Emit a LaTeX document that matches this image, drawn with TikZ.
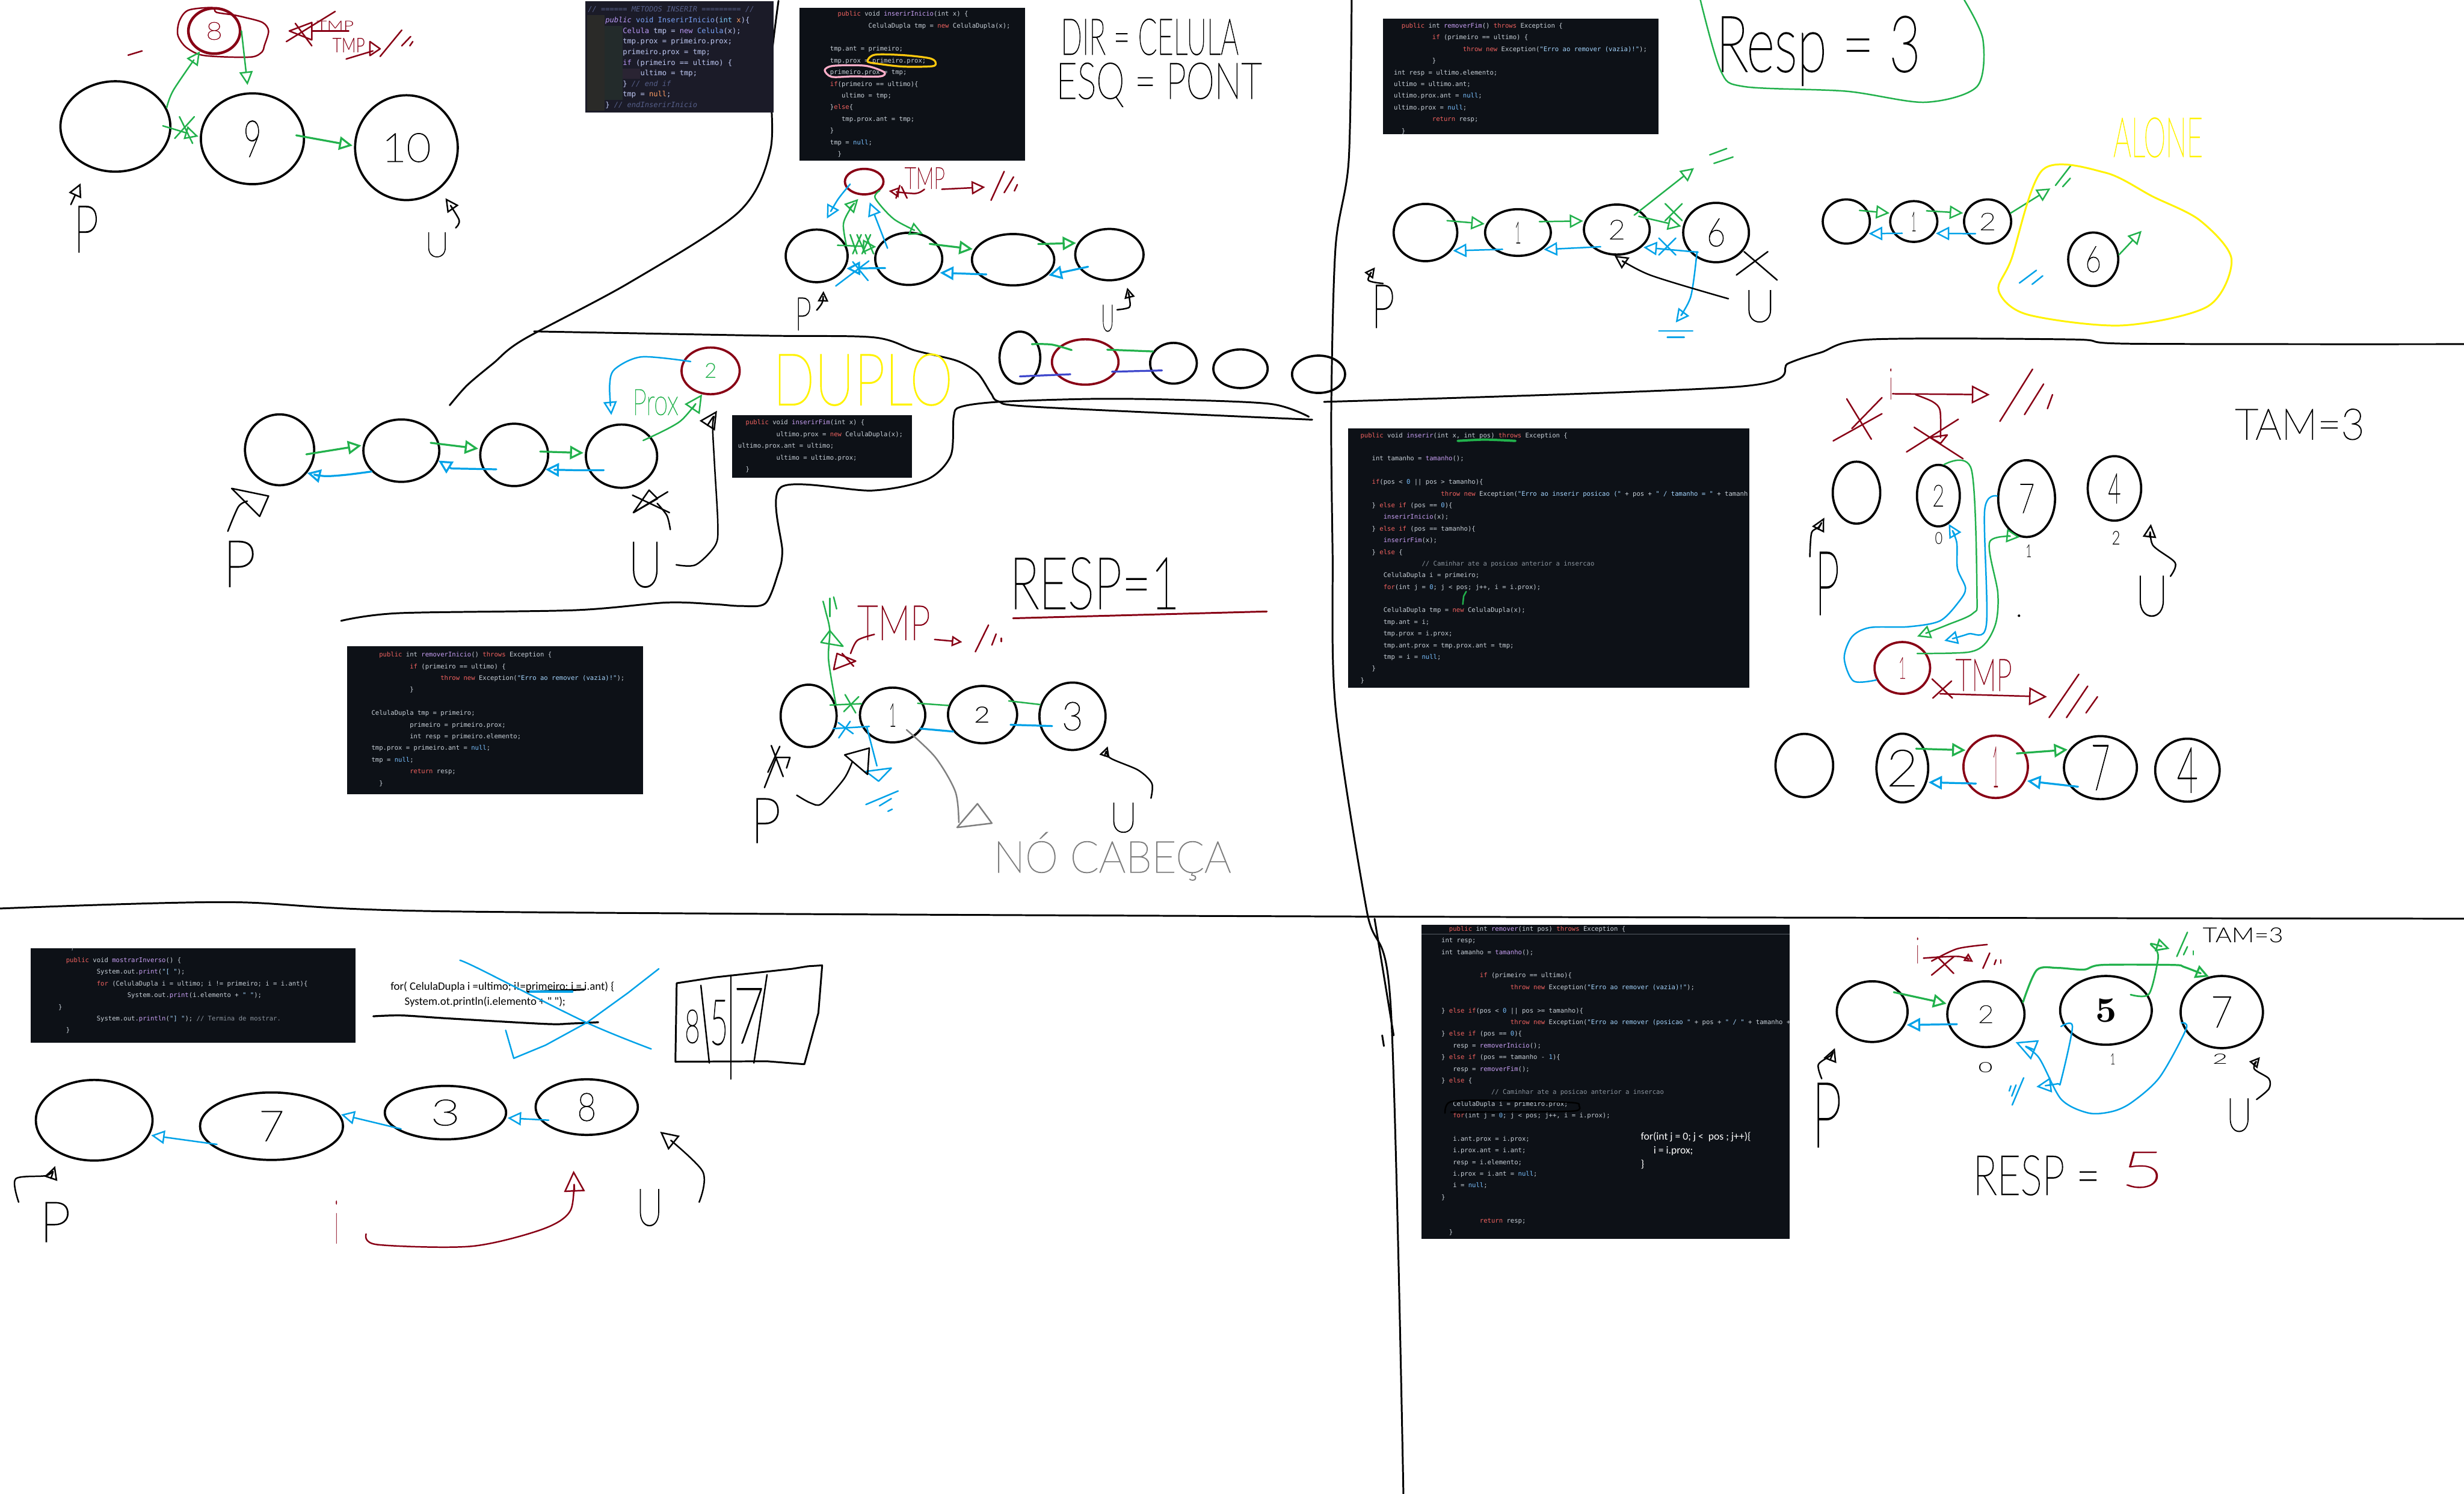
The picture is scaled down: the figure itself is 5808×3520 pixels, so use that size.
\documentclass[tikz,border=0pt]{standalone}
\usepackage{graphicx}
\usepackage{fontspec}
\setmonofont{DejaVu Sans Mono}
\newfontfamily\hwthin[UprightFont=* Hairline,FakeBold=1.6]{Lato}
\newfontfamily\hwlight[UprightFont=* Light]{Lato}
\newfontfamily\notefont{Carlito}
\usetikzlibrary{arrows.meta,shapes.geometric}

\definecolor{penred}{HTML}{880015}
\definecolor{pengreen}{HTML}{22B14C}
\definecolor{penblue}{HTML}{00A2E8}
\definecolor{penyellow}{HTML}{FFF200}
\definecolor{pengray}{HTML}{7F7F7F}
\definecolor{penindigo}{HTML}{3F48CC}
\definecolor{penpink}{HTML}{FFAEC9}
\definecolor{penorange}{HTML}{FFC90E}
\definecolor{codebg}{HTML}{0D1117}
\definecolor{codefg}{HTML}{C9D1D9}
\definecolor{codekw}{HTML}{F0625F}
\definecolor{codefn}{HTML}{C9A0F5}
\definecolor{codeval}{HTML}{79C0FF}
\definecolor{codestr}{HTML}{A5D6FF}
\definecolor{codecm}{HTML}{8B949E}
\definecolor{tnbg}{HTML}{1B1B28}
\definecolor{tnfg}{HTML}{C0CAF5}
\definecolor{tncm}{HTML}{565F89}
\definecolor{tnkw}{HTML}{BB9AF7}
\definecolor{tnfn}{HTML}{7AA2F7}
\definecolor{tnor}{HTML}{FF9E64}
\definecolor{tncy}{HTML}{7DCFFF}
\definecolor{tnshadea}{HTML}{2A2A28}
\definecolor{tnshadeb}{HTML}{232B2B}
\definecolor{tnshadec}{HTML}{2A2433}

\newlength{\pxu}
\setlength{\pxu}{0.01cm}
\newcommand{\hand}[3]{\resizebox{#1\pxu}{#2\pxu}{\ifnum#2<40 \hwlight\else\hwthin\fi #3}}
\newcommand{\ind}[1]{\hspace*{#1\dimexpr0.602em\relax}}
\newcommand{\kw}[1]{\textcolor{codekw}{#1}}
\newcommand{\fn}[1]{\textcolor{codefn}{#1}}
\newcommand{\val}[1]{\textcolor{codeval}{#1}}
\newcommand{\str}[1]{\textcolor{codestr}{#1}}
\newcommand{\cmt}[1]{\textcolor{codecm}{#1}}

\tikzset{
    pen/.style={line width=1pt,line cap=round,line join=round},
    kline/.style={pen,black},
    rline/.style={pen,penred},
    gline/.style={pen,pengreen},
    bline/.style={pen,penblue},
    yline/.style={pen,penyellow},
    wall/.style={line width=1.2pt,line cap=round,line join=round,black},
    hd/.style={-{Triangle[open,length=#1pt,width=#1pt]}},
    hd/.default=9,
    link/.style={hd,shorten <=-6pt,shorten >=1pt},
    cel/.style 2 args={ellipse,draw,line width=1.5pt,inner sep=0pt,minimum width=#1*0.01cm,minimum height=#2*0.01cm},
    redcel/.style 2 args={cel={#1}{#2},draw=penred,text=penred},
    hw/.style={inner sep=0pt},
    codetext/.style={anchor=north west,inner sep=0pt,text=codefg,font=\fontsize{4.27}{7.82}\selectfont\ttfamily},
}

\begin{document}
\begin{tikzpicture}[x=0.01cm,y=-0.01cm]
    \useasboundingbox (0,0) rectangle (5808,3520);

    % Dividing lines
    \draw[wall] plot[smooth] coordinates {(1835,2) (1816,167) (1816,353) (1741,500) (1482,667) (1234,800) (1163,856) (1101,908) (1060,955)};
    \draw[wall] plot[smooth] coordinates {(1259,781) (1800,791) (2059,795) (2157,826) (2255,850) (2304,879) (2336,927) (2354,946) (2443,959) (3093,989)};
    \draw[wall] plot[smooth] coordinates {(804,1463) (939,1445) (1354,1438) (1570,1420) (1686,1424) (1744,1428) (1804,1422) (1834,1351) (1844,1300) (1841,1148) (2056,1156) (2185,1130) (2241,1074) (2248,982) (2264,959) (2354,947) (2577,940) (2773,942) (2996,952) (3085,982)};
    \draw[wall] plot[smooth] coordinates {(3186,0) (3179,380) (3148,583) (3138,960) (3141,1296) (3148,1667) (3222,2148) (3278,2370) (3308,3520)};
    \draw[wall] plot[smooth] coordinates {(3121,947) (4100,911) (4216,856) (4291,831) (4407,800) (4888,800) (5020,810) (5808,811)};
    \draw[wall] plot[smooth] coordinates {(0,2141) (537,2126) (1074,2148) (3222,2160) (5808,2165)};
    \draw[wall] (3240,2165) -- (3285,2440);
    \draw[wall] (3258,2440) -- (3262,2465);

    % METODOS INSERIR panel
    \fill[tnbg] (1379,3) rectangle (1824,265);
    \fill[tnshadea] (1384,36) rectangle (1425,261);
    \fill[tnshadeb] (1425,61) rectangle (1467,236);
    \fill[tnshadec] (1467,161) rectangle (1508,186);
    \node[codetext,text=tnfg,font=\fontsize{4.87}{7.11}\selectfont\ttfamily] (insertpanel) at (1385,10) {\begin{tabular}{@{}l@{}}
        \textcolor{tncm}{\itshape // ====== METODOS INSERIR ========= //}\\
        \ind{4}\textcolor{tnkw}{\itshape public} \textcolor{tnfn}{void InserirInicio}(\textcolor{tncy}{int} \textcolor{tnor}{x})\{\\
        \ind{8}\textcolor{tnkw}{Celula} tmp = \textcolor{tnkw}{new} \textcolor{tnfn}{Celula}(x);\\
        \ind{8}tmp.prox = primeiro.prox;\\
        \ind{8}primeiro.prox = tmp;\\
        \ind{8}\textcolor{tnkw}{if} (primeiro == ultimo) \{\\
        \ind{12}ultimo = tmp;\\
        \ind{8}\} \textcolor{tncm}{\itshape // end if}\\
        \ind{8}tmp = \textcolor{tnor}{null};\\
        \ind{4}\} \textcolor{tncm}{\itshape // endInserirInicio}
    \end{tabular}};

    % inserirInicio panel
    \fill[codebg] (1884,18) rectangle (2416,379);
    \node[codetext] (inicio) at (1956,18) {\begin{tabular}{@{}l@{}}
        \ind{2}\kw{public} void \fn{inserirInicio}(int x) \{\\
        \ind{10}CelulaDupla tmp = \kw{new} CelulaDupla(x);\\
        \\
        tmp.ant = primeiro;\\
        tmp.prox = primeiro.prox;\\
        primeiro.prox = tmp;\\
        \kw{if}(primeiro == ultimo)\{\\
        \ind{3}ultimo = tmp;\\
        \}\kw{else}\{\\
        \ind{3}tmp.prox.ant = tmp;\\
        \}\\
        tmp = \val{null};\\
        \ind{2}\}
    \end{tabular}};
    \draw[pen,penorange,line width=1.3pt] plot[smooth cycle] coordinates {(2045,145) (2062,129) (2130,130) (2190,137) (2205,146) (2198,156) (2130,157) (2075,151)};
    \draw[pen,penpink,line width=1.3pt] plot[smooth cycle] coordinates {(1944,165) (1965,155) (2040,155) (2084,170) (2075,180) (2010,180) (1960,181)};

    % removerFim panel
    \fill[codebg] (3260,44) rectangle (3910,316);
    \node[codetext] (fim) at (3285,46) {\begin{tabular}{@{}l@{}}
        \ind{2}\kw{public} int \fn{removerFim}() \kw{throws} Exception \{\\
        \ind{10}\kw{if} (primeiro == ultimo) \{\\
        \ind{18}\kw{throw} \kw{new} Exception(\str{"Erro ao remover (vazia)!"});\\
        \ind{10}\}\\
        int resp = ultimo.elemento;\\
        ultimo = ultimo.ant;\\
        ultimo.prox.ant = \val{null};\\
        ultimo.prox = \val{null};\\
        \ind{10}\kw{return} resp;\\
        \ind{2}\}
    \end{tabular}};

    % inserir panel
    \fill[codebg] (3178,1009) rectangle (4124,1621);
    \node[codetext] (inserir) at (3206,1011) {\begin{tabular}{@{}l@{}}
        \kw{public} void \fn{inserir}(int x, int pos) \kw{throws} Exception \{\\
        \\
        \ind{3}int tamanho = \fn{tamanho}();\\
        \\
        \ind{3}\kw{if}(pos < \val{0} || pos > tamanho)\{\\
        \ind{21}\kw{throw} \kw{new} Exception(\str{"Erro ao inserir posicao ("} + pos + \str{" / tamanho = "} + tamanh\\
        \ind{3}\} \kw{else if} (pos == \val{0})\{\\
        \ind{6}\fn{inserirInicio}(x);\\
        \ind{3}\} \kw{else if} (pos == tamanho)\{\\
        \ind{6}\fn{inserirFim}(x);\\
        \ind{3}\} \kw{else} \{\\
        \ind{16}\cmt{// Caminhar ate a posicao anterior a insercao}\\
        \ind{6}CelulaDupla i = primeiro;\\
        \ind{6}\kw{for}(int j = \val{0}; j < pos; j++, i = i.prox);\\
        \\
        \ind{6}CelulaDupla tmp = \kw{new} CelulaDupla(x);\\
        \ind{6}tmp.ant = i;\\
        \ind{6}tmp.prox = i.prox;\\
        \ind{6}tmp.ant.prox = tmp.prox.ant = tmp;\\
        \ind{6}tmp = i = \val{null};\\
        \ind{3}\}\\
        \}
    \end{tabular}};
    \draw[gline,line width=1.6pt] plot[smooth] coordinates {(3436,1039) (3500,1036) (3572,1039)};
    \draw[gline] (3448,1424) -- (3450,1405) -- (3456,1394);

    % remover panel
    \fill[codebg] (3351,2180) rectangle (4218,2919);
    \draw[line width=.4pt,codefg!40!codebg] (3351,2202) -- (4218,2202);
    \node[codetext] (remover) at (3397,2174) {\begin{tabular}{@{}l@{}}
        \ind{2}\kw{public} int \fn{remover}(int pos) \kw{throws} Exception \{\\
        int resp;\\
        int tamanho = \fn{tamanho}();\\
        \\
        \ind{10}\kw{if} (primeiro == ultimo)\{\\
        \ind{18}\kw{throw} \kw{new} Exception(\str{"Erro ao remover (vazia)!"});\\
        \\
        \} \kw{else if}(pos < \val{0} || pos >= tamanho)\{\\
        \ind{18}\kw{throw} \kw{new} Exception(\str{"Erro ao remover (posicao "} + pos + \str{" / "} + tamanho +\\
        \} \kw{else if} (pos == \val{0})\{\\
        \ind{3}resp = \fn{removerInicio}();\\
        \} \kw{else if} (pos == tamanho - \val{1})\{\\
        \ind{3}resp = \fn{removerFim}();\\
        \} \kw{else} \{\\
        \ind{13}\cmt{// Caminhar ate a posicao anterior a insercao}\\
        \ind{3}CelulaDupla i = primeiro.prox;\\
        \ind{3}\kw{for}(int j = \val{0}; j < pos; j++, i = i.prox);\\
        \\
        \ind{3}i.ant.prox = i.prox;\\
        \ind{3}i.prox.ant = i.ant;\\
        \ind{3}resp = i.elemento;\\
        \ind{3}i.prox = i.ant = \val{null};\\
        \ind{3}i = \val{null};\\
        \}\\
        \\
        \ind{10}\kw{return} resp;\\
        \ind{2}\}
    \end{tabular}};
    \draw[kline] plot[smooth] coordinates {(3406,2623) (3418,2597) (3500,2593) (3700,2598) (3722,2606) (3712,2618) (3600,2620) (3420,2621)};
    \node[anchor=north west,inner sep=0pt,text=white,align=left,font=\fontsize{7.1}{9.2}\selectfont\notefont] (fornote) at (3867,2668) {for(int j = 0; j <\ \ pos ; j++)\{\\\hspace*{30\pxu}i = i.prox;\\\}};

    % removerInicio panel
    \fill[codebg] (818,1523) rectangle (1516,1872);
    \node[codetext] (rinicio) at (875,1528) {\begin{tabular}{@{}l@{}}
        \ind{2}\kw{public} int \fn{removerInicio}() \kw{throws} Exception \{\\
        \ind{10}\kw{if} (primeiro == ultimo) \{\\
        \ind{18}\kw{throw} \kw{new} Exception(\str{"Erro ao remover (vazia)!"});\\
        \ind{10}\}\\
        \\
        CelulaDupla tmp = primeiro;\\
        \ind{10}primeiro = primeiro.prox;\\
        \ind{10}int resp = primeiro.elemento;\\
        tmp.prox = primeiro.ant = \val{null};\\
        tmp = \val{null};\\
        \ind{10}\kw{return} resp;\\
        \ind{2}\}
    \end{tabular}};

    % mostrarInverso panel
    \fill[codebg] (72,2234) rectangle (838,2458);
    \draw[line width=.4pt,codecm] (171,2234) -- (170,2240);
    \node[codetext] (inverso) at (137,2248) {\begin{tabular}{@{}l@{}}
        \ind{2}\kw{public} void \fn{mostrarInverso}() \{\\
        \ind{10}System.out.\fn{print}(\str{"[ "});\\
        \ind{10}\kw{for} (CelulaDupla i = ultimo; i != primeiro; i = i.ant)\{\\
        \ind{18}System.out.\fn{print}(i.elemento + \str{" "});\\
        \}\\
        \ind{10}System.out.\fn{println}(\str{"] "}); \cmt{// Termina de mostrar.}\\
        \ind{2}\}
    \end{tabular}};

    % inserirFim panel
    \fill[codebg] (1726,979) rectangle (2149,1126);
    \node[codetext] (ifim) at (1739,981) {\begin{tabular}{@{}l@{}}
        \ind{2}\kw{public} void \fn{inserirFim}(int x) \{\\
        \ind{10}ultimo.prox = \kw{new} CelulaDupla(x);\\
        ultimo.prox.ant = ultimo;\\
        \ind{10}ultimo = ultimo.prox;\\
        \ind{2}\}
    \end{tabular}};

    % Inserir inicio simples
    \node[cel={259}{213}] (a0) at (272,298) {};
    \node[cel={243}{214}] (a9) at (595,327) {\hand{43}{85}{9}};
    \node[cel={242}{247}] (a10) at (958,348) {\hand{116}{67}{10}};
    \node[redcel={122}{107},line width=1.8pt] (a8) at (505,73) {\hand{39}{41}{8}};
    \draw[rline] plot[smooth cycle] coordinates {(500,18) (444,24) (423,49) (419,82) (437,110) (472,129) (528,134) (595,134) (618,122) (623,108) (633,73) (619,53) (577,41) (549,35) (510,29)};
    \draw[gline,hd] plot[smooth] coordinates {(a0.20) (409,212) (a8.-125)};
    \draw[gline,hd,shorten >=5pt] (a8.east) -- (a9.95);
    \draw[gline,link] (a0.-2) -- (a9.178);
    \draw[gline,link,line width=1.3pt] (a9.2) -- (a10.178);
    \draw[gline] (423,275) -- (454,338);
    \draw[gline] (458,275) -- (412,326);
    \node[hw,text=penred] (atmp) at (790,60) {\hand{88}{22}{TMP}};
    \draw[rline] (675,98) -- (790,27);
    \draw[rline] (696,55) -- (735,108);
    \draw[rline] (682,73) -- (735,53) -- (735,94) -- cycle;
    \draw[rline] (735,73) -- (822,73);
    \node[hw,text=penred] (atmpb) at (822,107) {\hand{77}{34}{TMP}};
    \draw[rline] (816,139) -- (879,120);
    \draw[rline] (872,98) -- (896,115) -- (872,131) -- cycle;
    \draw[rline] (896,133) -- (947,71);
    \draw[rline] (947,108) -- (968,86);
    \draw[rline] (966,108) -- (973,98);
    \draw[rline] (302,130) -- (335,120);
    \node[hw] (ap) at (203,540) {\hand{59}{108}{P}};
    \draw[kline,hd] (167,482) -- (190,432);
    \node[hw] (au) at (1030,577) {\hand{57}{57}{U}};
    \draw[kline,hd] plot[smooth] coordinates {(1074,537) (1082,518) (1050,467)};

    % Dupla inserir inicio
    \node[redcel={91}{60}] (bt) at (2037,428) {};
    \node[cel={146}{124}] (b0) at (1925,603) {};
    \node[cel={158}{123}] (b1) at (2142,610) {};
    \node[cel={194}{121}] (b2) at (2388,612) {};
    \node[cel={161}{121}] (b3) at (2615,600) {};
    \draw[gline,link] (b0.19) -- (b1.159);
    \draw[gline,hd] plot[smooth] coordinates {(b0.19) (1988,528) (2005,491) (2023,469)};
    \draw[gline,hd] plot[smooth] coordinates {(bt.-30) (2063,467) (2108,517) (b1.60)};
    \draw[bline,hd] plot[smooth] coordinates {(2004,434) (1975,470) (1949,515)};
    \draw[bline,hd] (2092,585) -- (2050,477);
    \draw[gline,link,line width=1.3pt] (b1.25) -- (b2.165);
    \draw[gline,link,line width=1.3pt] (b2.25) -- (b3.160);
    \draw[bline,link,line width=1.3pt] (b1.196) -- (b0.-24);
    \draw[bline,link,line width=1.3pt] (b2.-158) -- (b1.-25);
    \draw[bline,link,line width=1.3pt] (b3.-155) -- (b2.-25);
    \draw[gline] (2004,553) -- (2020,598);
    \draw[gline] (2020,553) -- (2040,598);
    \draw[gline] (2040,553) -- (2059,598);
    \draw[gline] (2010,598) -- (2030,553);
    \draw[gline] (2032,598) -- (2052,553);
    \draw[bline] (2010,617) -- (2046,661);
    \draw[bline] (2048,615) -- (1970,674);
    \node[hw,text=penred] (btmp) at (2180,420) {\hand{95}{50}{TMP}};
    \draw[rline,hd] (2220,446) -- (2322,441);
    \draw[rline,hd=7] plot[smooth] coordinates {(2179,446) (2157,456) (2095,450)};
    \draw[rline] (2121,437) -- (2112,467);
    \draw[rline] (2125,440) -- (2138,467);
    \draw[rline] (2336,472) -- (2367,404);
    \draw[rline] (2389,417) -- (2367,454);
    \draw[rline] (2398,435) -- (2391,450);
    \node[hw] (bp) at (1893,740) {\hand{39}{76}{P}};
    \draw[kline,hd=7] plot[smooth] coordinates {(1925,731) (1938,713) (1941,686)};
    \node[hw] (bu) at (2611,750) {\hand{31}{62}{U}};
    \draw[kline,hd=7] plot[smooth] coordinates {(2633,730) (2662,724) (2662,702) (2657,678)};

    % Lista depois de inserir
    \node[cel={96}{123}] (d0) at (2404,843) {};
    \node[redcel={157}{107}] (d1) at (2558,853) {};
    \node[cel={110}{96}] (d2) at (2766,856) {};
    \node[cel={128}{91}] (d3) at (2924,869) {};
    \node[cel={125}{88}] (d4) at (3108,882) {};
    \draw[gline,line width=1.3pt] plot[smooth] coordinates {(2432,811) (2479,812) (2526,825)};
    \draw[gline,line width=1.3pt] (2610,824) -- (d2.150);
    \draw[pen,penindigo,line width=1.3pt] (2404,887) -- (2523,882);
    \draw[pen,penindigo,line width=1.3pt] (2621,876) -- (2739,873);

    % Textos de cima
    \node[hw] (dirtxt) at (2710,87) {\hand{419}{84}{DIR = CELULA}};
    \node[hw] (esqtxt) at (2732,200) {\hand{485}{84}{ESQ = PONT}};
    \node[hw,text=penyellow] (duplotxt) at (2034,895) {\hand{424}{120}{DUPLO}};

    % Inserir fim
    \node[cel={163}{167}] (c0) at (659,1060) {};
    \node[cel={179}{147}] (c1) at (946,1062) {};
    \node[cel={160}{147}] (c2) at (1212,1072) {};
    \node[cel={168}{149}] (c3) at (1465,1075) {};
    \node[redcel={137}{110},text=pengreen] (ct) at (1675,874) {\hand{29}{35}{2}};
    \draw[gline,link,line width=1.3pt] (c0.-5) -- (c1.172);
    \draw[gline,link,line width=1.3pt] (c1.10) -- (c2.170);
    \draw[gline,link,line width=1.3pt] (c2.5) -- (c3.175);
    \draw[bline,hd,line width=1.3pt] plot[smooth] coordinates {(c1.-145) (815,1119) (765,1122) (c0.-40)};
    \draw[bline,hd,line width=1.3pt] plot coordinates {(1170,1106) (1064,1104) (c1.-15)};
    \draw[bline,hd,line width=1.3pt] plot[smooth] coordinates {(1423,1108) (1354,1108) (c2.-25)};
    \draw[gline,hd=12] plot[smooth] coordinates {(1516,1038) (1603,993) (ct.-110)};
    \draw[bline,hd] plot[smooth] coordinates {(1628,852) (1512,841) (1449,870) (1437,908) (1441,978)};
    \node[hw,text=pengreen] (proxtxt) at (1545,948) {\hand{108}{60}{Prox}};
    \draw[kline] (1491,1167) -- (1578,1208);
    \draw[kline] (1574,1159) -- (1493,1208);
    \draw[kline] (1530,1155) -- (1493,1208) -- (1550,1175) -- cycle;
    \draw[kline] plot[smooth] coordinates {(1549,1186) (1572,1215) (1580,1248)};
    \node[hw] (cp) at (564,1329) {\hand{79}{107}{P}};
    \draw[kline] plot[smooth] coordinates {(537,1252) (562,1194) (583,1181)};
    \draw[kline] (546,1151) -- (633,1169) -- (612,1217) -- cycle;
    \node[hw] (cu) at (1521,1331) {\hand{80}{105}{U}};
    \draw[kline,hd=12] plot[smooth] coordinates {(1594,1331) (1640,1331) (1686,1285) (1692,1235) (1684,1090) (1680,999) (1690,968)};

    % Remover inicio
    \node[cel={132}{147}] (r0) at (1906,1687) {};
    \node[cel={154}{129}] (r1) at (2104,1685) {\hand{17}{54}{1}};
    \node[cel={163}{135}] (r2) at (2316,1684) {\hand{38}{38}{2}};
    \node[cel={156}{159}] (r3) at (2528,1688) {\hand{50}{66}{3}};
    \draw[gline,shorten <=-4pt] (r0.22) -- (r1.160);
    \draw[gline,shorten <=-4pt] (r1.20) -- (r2.165);
    \draw[gline,shorten <=-4pt] (r2.22) -- (r3.160);
    \draw[gline] (1992,1637) -- (2017,1680);
    \draw[gline] (2024,1642) -- (1989,1677);
    \draw[gline] plot[smooth] coordinates {(r0.22) (1953,1555) (1956,1486) (1946,1440) (1940,1417)};
    \draw[gline] (1956,1486) -- (1935,1514) -- (1987,1523) -- cycle;
    \draw[gline] (1956,1410) -- (1956,1453);
    \draw[gline] (1965,1407) -- (1972,1435);
    \draw[bline] (1964,1717) -- (2049,1712);
    \draw[bline] (1976,1703) -- (2011,1729);
    \draw[bline] (2004,1700) -- (1977,1739);
    \draw[bline] (2043,1713) -- (2067,1805);
    \draw[bline] (2041,1818) -- (2101,1810) -- (2071,1841) -- cycle;
    \draw[bline,line width=1.3pt] (2169,1717) -- (r2.-150);
    \draw[bline,line width=1.3pt] (2382,1708) -- (2480,1711);
    \draw[bline] (2041,1896) -- (2117,1864);
    \draw[bline] (2073,1899) -- (2101,1882);
    \draw[bline] (2093,1912) -- (2103,1907);
    \draw[kline] plot[smooth] coordinates {(1878,1874) (1910,1892) (1937,1894) (1989,1836) (2009,1795)};
    \draw[kline] (1991,1779) -- (2049,1763) -- (2045,1825) -- cycle;
    \draw[kline] (1802,1856) -- (1830,1785);
    \draw[kline] (1818,1757) -- (1846,1830);
    \draw[kline] (1838,1759) -- (1810,1820);
    \draw[kline] (1830,1785) -- (1862,1785) -- (1854,1810);
    \node[hw] (rp) at (1805,1934) {\hand{72}{104}{P}};
    \node[hw] (ru) at (2648,1927) {\hand{66}{69}{U}};
    \draw[kline,hd=7] plot[smooth] coordinates {(2713,1881) (2715,1846) (2683,1815) (2615,1785) (2611,1759)};
    \draw[pen,pengray] plot[smooth] coordinates {(2137,1720) (2205,1785) (2252,1866) (2260,1938)};
    \draw[pen,pengray] (2256,1950) -- (2304,1894) -- (2338,1940) -- cycle;
    \node[hw,text=pengray] (notxt) at (2622,2018) {\hand{560}{95}{NÓ CABEÇA}};
    \node[hw] (resptxt) at (2580,1375) {\hand{400}{120}{RESP=1}};
    \draw[rline,line width=1.2pt] (2388,1457) -- (2986,1441);
    \node[hw,text=penred] (rtmp) at (2107,1468) {\hand{172}{80}{TMP}};
    \draw[rline] plot[smooth] coordinates {(2061,1495) (2021,1509) (2005,1540)};
    \draw[rline] (1965,1578) -- (1973,1540) -- (2017,1558) -- cycle;
    \draw[rline] (1985,1540) -- (2012,1570);
    \draw[rline,hd=7] (2203,1507) -- (2268,1513);
    \draw[rline] (2299,1536) -- (2330,1473);
    \draw[rline] (2338,1520) -- (2348,1494);
    \draw[rline] (2360,1512) -- (2360,1504);

    % Remover fim
    \node[cel={150}{135}] (e0) at (3360,548) {};
    \node[cel={155}{110}] (e1) at (3578,548) {\hand{15}{50}{1}};
    \node[cel={155}{118}] (e2) at (3811,541) {\hand{40}{45}{2}};
    \node[cel={155}{140}] (e3) at (4045,548) {\hand{45}{65}{6}};
    \draw[gline,link] (e0.20) -- (e1.165);
    \draw[gline,link] (e1.20) -- (e2.165);
    \draw[gline,link] (e2.20) -- (e3.170);
    \draw[bline,link] (e1.-145) -- (e0.-35);
    \draw[bline,link] (e2.-145) -- (e1.-35);
    \draw[bline,link] (e3.-145) -- (e2.-35);
    \draw[gline,hd] (3852,507) -- (3993,396);
    \draw[gline] (3925,480) -- (3965,520);
    \draw[gline] (3965,480) -- (3925,520);
    \draw[bline] (3910,561) -- (3950,601);
    \draw[bline] (3950,561) -- (3910,601);
    \draw[bline,hd] plot[smooth] coordinates {(4000,593) (3985,700) (3950,760)};
    \draw[bline] (3910,780) -- (3990,780);
    \draw[bline] (3930,795) -- (3970,795);
    \draw[gline] (4030,365) -- (4070,350);
    \draw[gline] (4040,385) -- (4085,370);
    \draw[kline] (4093,648) -- (4167,593);
    \draw[kline] (4111,593) -- (4189,660);
    \node[hw] (eu) at (4148,722) {\hand{74}{74}{U}};
    \draw[kline,hd] plot[smooth] coordinates {(4074,704) (3889,648) (e2.-95)};
    \node[hw] (ep) at (3260,722) {\hand{55}{100}{P}};
    \draw[kline,hd=7] plot[smooth] coordinates {(3260,668) (3225,660) (3241,630)};
    \node[hw] (resptres) at (4286,120) {\hand{482}{130}{Resp = 3}};
    \draw[gline] plot[smooth] coordinates {(4008,0) (4056,167) (4111,204) (4352,215) (4537,241) (4660,204) (4674,93) (4630,0)};

    % Celula sozinha
    \node[cel={111}{104}] (f0) at (4352,522) {};
    \node[cel={111}{96}] (f1) at (4511,522) {\hand{12}{45}{1}};
    \node[cel={111}{104}] (f2) at (4685,522) {\hand{40}{40}{2}};
    \node[cel={118}{126}] (f6) at (4934,611) {\hand{38}{60}{6}};
    \draw[gline,link] (f0.25) -- (f1.160);
    \draw[gline,link] (f1.25) -- (f2.160);
    \draw[gline,hd] (f2.20) -- (4833,444);
    \draw[gline,hd] (f6.10) -- (5048,544);
    \draw[bline,link] (f1.-150) -- (f0.-30);
    \draw[bline,link] (f2.-150) -- (f1.-30);
    \draw[gline] (4845,437) -- (4882,389);
    \draw[gline] (4862,440) -- (4880,420);
    \draw[bline] (4800,637) -- (4760,667);
    \draw[bline] (4815,650) -- (4790,670);
    \draw[yline,line width=1.2pt] plot[smooth cycle] coordinates {(4815,400) (4741,611) (4711,685) (4778,741) (5000,767) (5204,722) (5260,611) (5185,519) (5074,463) (4963,407)};
    \node[hw,text=penyellow] (alonetxt) at (5087,324) {\hand{211}{92}{ALONE}};

    % Inserir no meio
    \node[cel={112}{146}] (g0) at (4376,1161) {};
    \node[cel={101}{145}] (g2) at (4569,1168) {\hand{28}{50}{2}};
    \node[cel={134}{181}] (g7) at (4777,1175) {\hand{38}{68}{7}};
    \node[cel={126}{152}] (g4) at (4984,1151) {\hand{30}{70}{4}};
    \node[redcel={131}{122}] (gt) at (4484,1574) {\hand{18}{50}{1}};
    \draw[gline,hd] plot[smooth] coordinates {(g2.80) (4647,1107) (4660,1403) (4651,1445) (4589,1473) (4519,1500)};
    \draw[gline,hd] plot[smooth] coordinates {(4519,1540) (4639,1537) (4680,1516) (4705,1466) (4709,1396) (4690,1277) (g7.-100)};
    \draw[bline,hd] plot[smooth] coordinates {(g7.175) (4678,1203) (4682,1473) (4639,1494) (4583,1510)};
    \draw[bline,hd] plot[smooth] coordinates {(gt.-155) (4369,1605) (4347,1551) (4365,1501) (4407,1479) (4498,1477) (4573,1463) (4618,1417) (4633,1386) (4614,1340) (4612,1277) (g2.-70)};
    \draw[rline,hd=12] (4461,928) -- (4690,930);
    \node[hw,text=penred] (gi) at (4457,905) {\hand{8}{72}{i}};
    \draw[rline] plot[smooth] coordinates {(4515,930) (4556,947) (4573,968) (4574,1031)};
    \draw[rline] (4550,1031) -- (4590,1025) -- (4574,1045) -- cycle;
    \draw[rline] (4494,1065) -- (4616,988);
    \draw[rline] (4512,1007) -- (4627,1081);
    \draw[rline] (4353,940) -- (4411,1035);
    \draw[rline] (4436,937) -- (4365,1010);
    \draw[rline] (4321,1039) -- (4436,975);
    \draw[rline] (4714,993) -- (4791,870);
    \draw[rline] (4772,977) -- (4817,905);
    \draw[rline] (4826,963) -- (4838,930);
    \node[hw,text=penred] (gtmp) at (4676,1591) {\hand{133}{74}{TMP}};
    \draw[rline,hd=12] (4573,1635) -- (4825,1642);
    \draw[rline] (4554,1600) -- (4602,1645);
    \draw[rline] (4600,1605) -- (4556,1645);
    \draw[rline] (4830,1691) -- (4900,1589);
    \draw[rline] (4871,1691) -- (4921,1617);
    \draw[rline] (4917,1680) -- (4944,1642);
    \node[hw] (gtam) at (5421,1000) {\hand{305}{72}{TAM=3}};
    \node[hw] (gp) at (4307,1375) {\hand{58}{147}{P}};
    \draw[kline,hd] plot[smooth] coordinates {(4266,1312) (4270,1256) (4287,1242) (4300,1220)};
    \node[hw] (gu) at (5072,1405) {\hand{79}{94}{U}};
    \draw[kline,hd] plot[smooth] coordinates {(5116,1358) (5127,1326) (5074,1284) (5070,1235)};
    \node[hw] (gzero) at (4570,1268) {\hand{18}{28}{0}};
    \node[hw] (gone) at (4782,1299) {\hand{14}{30}{1}};
    \node[hw] (gtwo) at (4988,1268) {\hand{20}{32}{2}};
    \fill (4759,1451) circle (3);

    % Lista depois de inserir no meio
    \node[cel={136}{149}] (h0) at (4253,1804) {};
    \node[cel={122}{162}] (h2) at (4484,1810) {\hand{75}{85}{2}};
    \node[redcel={152}{147}] (h1) at (4704,1807) {\hand{15}{95}{1}};
    \node[cel={172}{118}] (h7) at (4951,1809) {\hand{45}{105}{7}};
    \node[cel={152}{137}] (h4) at (5156,1815) {\hand{50}{105}{4}};
    \draw[gline,link,line width=1.3pt] (h2.40) -- (h1.150);
    \draw[gline,link,line width=1.3pt] (h1.25) -- (h7.150);
    \draw[bline,link,line width=1.3pt] (h1.-150) -- (h2.-30);
    \draw[bline,link,line width=1.3pt] (h7.-150) -- (h1.-25);

    % Remover posicao
    \node[cel={167}{143}] (k0) at (4413,2384) {};
    \node[cel={182}{155}] (k2) at (4681,2390) {\hand{38}{41}{2}};
    \node[cel={216}{162},font=\bfseries] (k5) at (4964,2381) {\resizebox{50\pxu}{55\pxu}{\bfseries 5}};
    \node[cel={194}{170}] (k7) at (5237,2385) {\hand{52}{72}{7}};
    \draw[gline,link,line width=1.3pt] (k0.30) -- (k2.165);
    \draw[bline,link,line width=1.3pt] (k2.-165) -- (k0.-22);
    \draw[gline,hd,line width=1.3pt] plot[smooth] coordinates {(k2.18) (4801,2286) (4850,2281) (4912,2285) (4954,2274) (5122,2274) (5149,2279) (k7.110)};
    \draw[gline,hd,line width=1.1pt] plot[smooth] coordinates {(5022,2344) (5065,2343) (5086,2265) (5084,2241) (5070,2224) (5114,2236)};
    \draw[gline] (5131,2254) -- (5156,2197);
    \draw[gline] (5147,2250) -- (5156,2231);
    \draw[gline] (5170,2241) -- (5170,2250);
    \draw[bline,hd=14] plot[smooth] coordinates {(k7.-165) (5153,2425) (5091,2538) (5026,2597) (4980,2619) (4923,2623) (4858,2590) (4804,2490) (4751,2456)};
    \draw[bline,hd=10] plot[smooth] coordinates {(4858,2419) (4885,2419) (4858,2547) (4850,2554) (4800,2561)};
    \draw[bline] (4743,2604) -- (4770,2540);
    \draw[bline] (4742,2583) -- (4752,2557);
    \draw[bline] (4736,2571) -- (4740,2559);
    \node[hw,text=penred] (ki) at (4520,2240) {\hand{8}{60}{i}};
    \draw[rline,hd=6] plot[smooth] coordinates {(4534,2258) (4617,2254) (4651,2267)};
    \draw[rline] plot[smooth] coordinates {(4684,2226) (4613,2236) (4553,2265)};
    \draw[rline] (4567,2255) -- (4605,2294);
    \draw[rline] (4605,2255) -- (4553,2298);
    \draw[rline] (4674,2282) -- (4690,2246);
    \draw[rline] (4701,2273) -- (4705,2262);
    \draw[rline] (4716,2270) -- (4716,2262);
    \node[hw] (kp) at (4306,2628) {\hand{71}{150}{P}};
    \draw[kline,hd] plot[smooth] coordinates {(4294,2542) (4286,2509) (4315,2487) (4325,2470)};
    \node[hw] (ku) at (5278,2628) {\hand{61}{77}{U}};
    \draw[kline,hd=7] plot[smooth] coordinates {(5319,2591) (5348,2566) (5348,2542) (5313,2518) (5327,2491)};
    \node[hw] (kzero) at (4680,2516) {\hand{34}{24}{0}};
    \node[hw] (kone) at (4980,2496) {\hand{12}{26}{1}};
    \node[hw] (ktwo) at (5233,2495) {\hand{36}{24}{2}};
    \node[hw] (ktam) at (5287,2204) {\hand{190}{35}{TAM=3}};
    \node[hw] (kresp) at (4800,2770) {\hand{299}{92}{RESP =}};
    \node[hw,text=penred] (kval) at (5050,2757) {\hand{103}{83}{5}};

    % Mostrar inverso
    \node[anchor=base west,inner sep=0pt,font=\fontsize{7.6}{9}\selectfont\notefont] (forline) at (920,2333) {for( CelulaDupla i =ultimo; i!=primeiro; i = i.ant) \{};
    \node[anchor=base west,inner sep=0pt,font=\fontsize{7.6}{9}\selectfont\notefont] (printline) at (953,2368) {System.ot.println(i.elemento + " ");};
    \draw[kline,line width=1.3pt] (1244,2337) -- (1377,2332);
    \draw[bline,line width=1.5pt] (1250,2337) -- (1349,2337);
    \draw[kline,line width=1.3pt] plot[smooth] coordinates {(880,2395) (947,2393) (1056,2400) (1286,2413) (1347,2412) (1410,2409)};
    \draw[bline] plot[smooth] coordinates {(1084,2263) (1129,2283) (1383,2410) (1535,2472)};
    \draw[bline] plot coordinates {(1553,2283) (1480,2340) (1383,2410) (1286,2463) (1211,2494) (1192,2428)};
    % Tabela
    \draw[kline,line width=1.2pt] (1595,2317) -- (1686,2303) -- (1868,2283) -- (1905,2277) -- (1938,2275) -- (1929,2387) -- (1896,2508) -- (1808,2501) -- (1592,2502) -- cycle;
    \draw[kline] (1652,2322) -- (1672,2505);
    \draw[kline] (1723,2298) -- (1723,2543);
    \draw[kline] (1808,2297) -- (1777,2505);
    \node[hw] (tab8) at (1632,2419) {\hand{36}{78}{8}};
    \node[hw] (tab5) at (1695,2410) {\hand{43}{104}{5}};
    \node[hw] (tab7) at (1765,2394) {\hand{73}{128}{7}};

    \node[cel={275}{190}] (m0) at (222,2640) {};
    \node[cel={337}{159}] (m7) at (640,2654) {\hand{60}{70}{7}};
    \node[cel={286}{126}] (m3) at (1050,2622) {\hand{70}{60}{3}};
    \node[cel={241}{131}] (m8) at (1383,2609) {\hand{45}{65}{8}};
    \draw[bline,link] (m7.-165) -- (m0.-15);
    \draw[bline,link] (m3.-165) -- (m7.10);
    \draw[bline,link] (m8.-165) -- (m3.-5);
    \node[hw] (mp) at (130,2880) {\hand{74}{93}{P}};
    \draw[kline,hd] plot[smooth] coordinates {(44,2833) (37,2778) (111,2770) (130,2748)};
    \node[hw] (mu) at (1531,2846) {\hand{63}{85}{U}};
    \draw[kline,hd=12] plot[smooth] coordinates {(1648,2833) (1656,2760) (1556,2667)};
    \node[hw,text=penred] (mi) at (793,2880) {\hand{8}{100}{i}};
    \draw[rline,hd=14] plot[smooth] coordinates {(863,2908) (889,2933) (1111,2937) (1278,2897) (1345,2852) (1352,2759)};

\end{tikzpicture}
\end{document}
